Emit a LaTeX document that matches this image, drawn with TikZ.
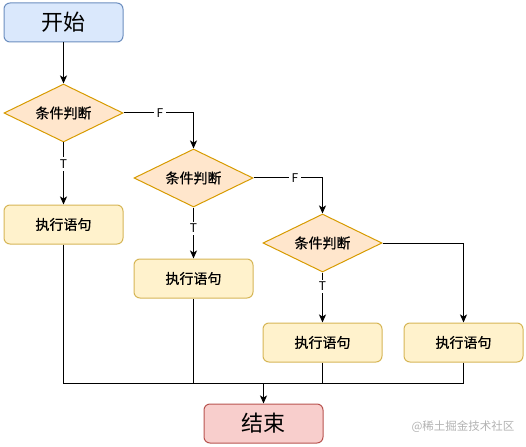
\documentclass[tikz,border=0pt]{standalone}
\usepackage{fontspec}
\newfontfamily\cjk{Noto Sans CJK SC}
\newfontfamily\cjkmid[FakeBold=0.5]{Noto Sans CJK SC}
\usetikzlibrary{arrows.meta}
\usetikzlibrary{positioning}
\usetikzlibrary{shapes.geometric}
\definecolor{startfill}{HTML}{DAE8FC}
\definecolor{startline}{HTML}{6C8EBF}
\definecolor{condfill}{HTML}{FFE6CC}
\definecolor{condline}{HTML}{D79B00}
\definecolor{stmtfill}{HTML}{FFF2CC}
\definecolor{stmtline}{HTML}{D6B656}
\definecolor{endfill}{HTML}{F8CECC}
\definecolor{endline}{HTML}{B85450}
\tikzset {
  flow path/.style = {
    draw = black,
    line width = 1pt
  },
  % path style with an arrow at the end
  arr/.style = {
    flow path,
    -{Stealth[length=8pt, width=7pt, inset=2pt]}
  },
  % path style with no arrow
  narr/.style = {
    flow path
  },
  % T / F on a branch
  branch/.style = {
    fill = white,
    inner sep = 2.5pt,
    font = \cjk\fontsize{12pt}{12pt}\selectfont
  }
}
\tikzset {
  flow node/.style = {
    draw,
    line width = 1pt,
    inner sep = 0
  },
  % start and end
  terminal/.style = {
    flow node,
    rectangle,
    rounded corners = 6pt,
    minimum width = 119pt,
    minimum height = 39pt,
    font = \cjk\fontsize{22pt}{22pt}\selectfont
  },
  % condition
  cond/.style = {
    flow node,
    diamond,
    aspect = 2,
    minimum width = 119pt,
    minimum height = 58pt,
    fill = condfill,
    draw = condline,
    font = \cjkmid\fontsize{14pt}{14pt}\selectfont
  },
  % statement
  stmt/.style = {
    flow node,
    rectangle,
    rounded corners = 6pt,
    minimum width = 119pt,
    minimum height = 39pt,
    fill = stmtfill,
    draw = stmtline,
    font = \cjkmid\fontsize{14pt}{14pt}\selectfont
  }
}

\begin{document}
\begin{tikzpicture}
    \useasboundingbox (0pt,0pt) rectangle (526pt,-446pt);
    \node[terminal, fill=startfill, draw=startline] (start) at (63.5pt,-22.5pt) {开始};
    \node[cond] (cond1) [below=41pt of start] {条件判断};
    \node[stmt] (act1) [below=62pt of cond1] {执行语句};
    \node[cond] (cond2) [right=10pt of cond1, yshift=-65pt] {条件判断};
    \node[stmt] (act2) [below=51pt of cond2] {执行语句};
    \node[cond] (cond3) [right=9pt of cond2, yshift=-65pt] {条件判断};
    \node[stmt] (act3) [below=50pt of cond3] {执行语句};
    \node[stmt] (act4) [right=21pt of act3] {执行语句};
    \node[terminal, fill=endfill, draw=endline] (end) [below=41pt of act3, xshift=-59pt] {结束};
    \coordinate [above=20pt of end] (merge);
    \node[font=\cjk\fontsize{11.5pt}{11.5pt}\selectfont, text=black!30] (mark) at (463pt,-427pt) {@稀土掘金技术社区};

    \draw[arr] (start) -- (cond1);
    \draw[arr] (cond1) -- (act1) node[branch, pos=0.35] {T};
    \draw[arr] (cond1.east) -| (cond2.north) node[branch, pos=0.26] {F};
    \draw[arr] (cond2) -- (act2) node[branch, pos=0.41] {T};
    \draw[arr] (cond2.east) -| (cond3.north) node[branch, pos=0.3] {F};
    \draw[arr] (cond3) -- (act3) node[branch, pos=0.28] {T};
    \draw[arr] (cond3.east) -| (act4.north);
    \draw[narr] (act1.south) |- (merge);
    \draw[narr] (act2.south) |- (merge);
    \draw[narr] (act3.south) |- (merge);
    \draw[narr] (act4.south) |- (merge);
    \draw[arr] (merge) -- (end);
  \end{tikzpicture}
\end{document}
